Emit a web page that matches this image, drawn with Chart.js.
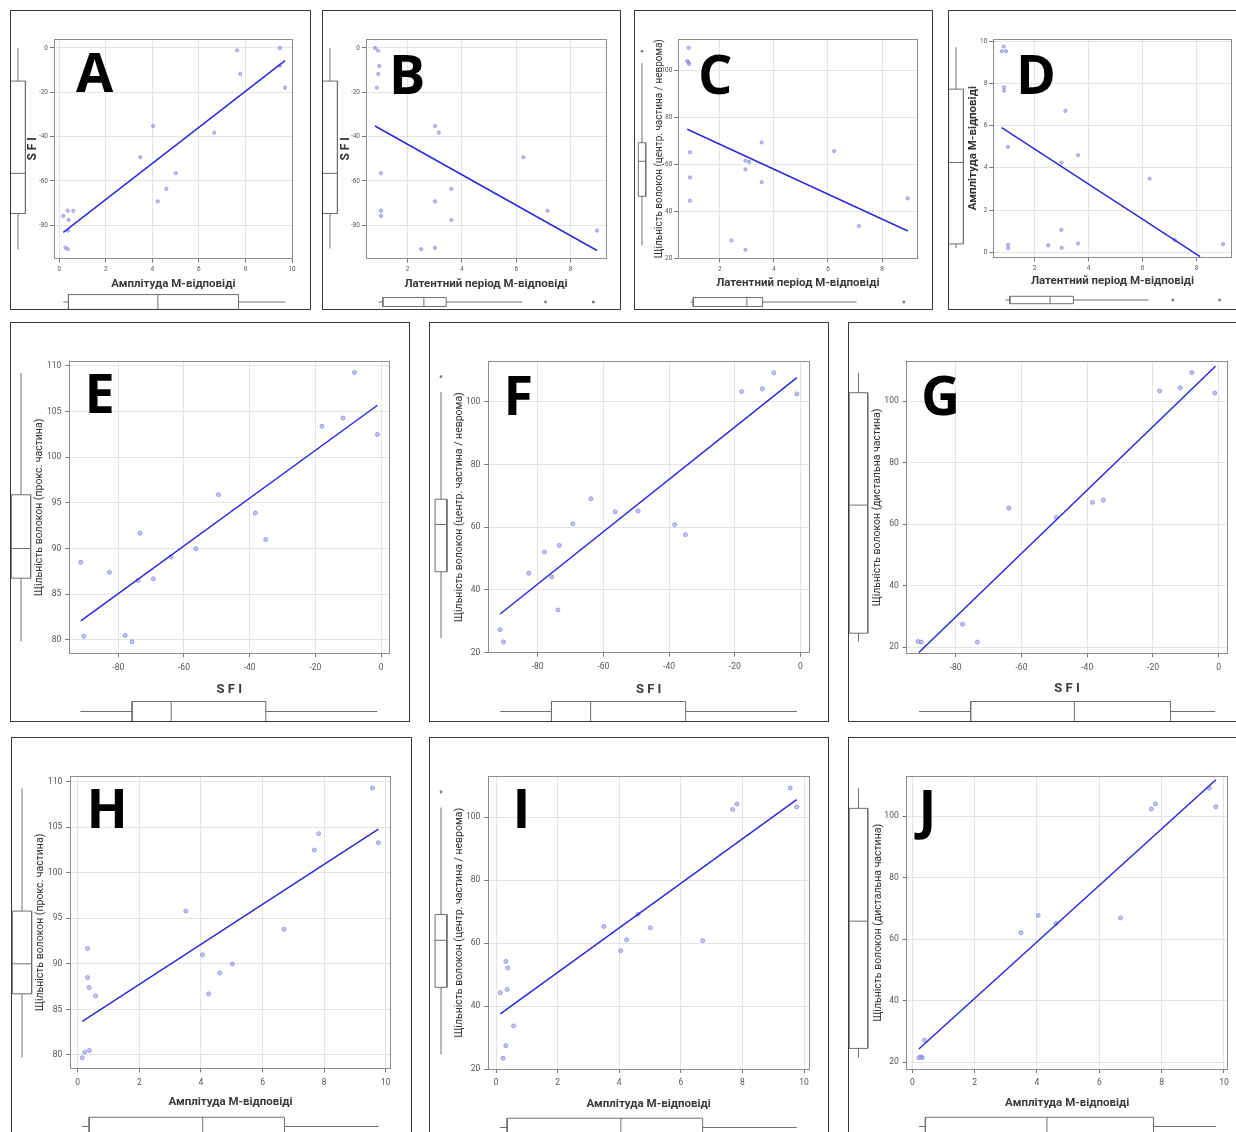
<!DOCTYPE html>
<html>
<head>
<meta charset="utf-8">
<script src="https://cdn.jsdelivr.net/npm/chart.js@4.4.1/dist/chart.umd.min.js"></script>
<style>
html, body { margin: 0; padding: 0; background: #fff; }
body { width: 1236px; height: 1132px; overflow: hidden; position: relative; }
.wrap { position: absolute; overflow: hidden; }
.wrap canvas { position: absolute; }
.border { position: absolute; border: 1.5px solid #3a3a3a; box-sizing: border-box; pointer-events: none; }
.letter { position: absolute; font-family: 'Open Sans', sans-serif; font-weight: 700; font-size: 54px; line-height: 1; color: #000; }
</style>
</head>
<body>
<script>
// tick labels
const ticksAmp = [0, 2, 4, 6, 8, 10];
const ticksLat = [2, 4, 6, 8];
const ticksSfi = [0, -20, -40, -60, -80];
const ticksProx = [80, 85, 90, 95, 100, 105, 110];
const ticksCent = [20, 40, 60, 80, 100];
const ticksDist = [20, 40, 60, 80, 100];

// axis titles
const titleAmp = 'Амплітуда М-відповіді';
const titleLat = 'Латентний період М-відповіді';
const titleSfi = 'S F I';
const titleProx = 'Щільність волокон (прокс. частина)';
const titleCent = 'Щільність волокон (центр. частина / неврома)';
const titleDist = 'Щільність волокон (дистальна частина)';

// A: amplitude vs SFI
const aAmp = [7.64, 9.48, 7.78, 9.48, 9.70, 4.03, 6.66, 3.48, 5.00, 4.60, 4.23, 0.36, 0.60, 0.17, 0.40, 0.37, 0.26, 0.36];
const aSfi = [-1.1, 0.0, -11.7, -8.0, -17.9, -35.2, -38.2, -49.3, -56.5, -63.6, -69.2, -73.4, -73.5, -75.8, -77.6, -82.4, -90.1, -90.8];
const aFitX = [0.17, 9.70];
const aFitY = [-83.2, -5.7];
const aBoxX = [0.17, 0.39, 4.23, 7.69, 9.70];
const aBoxY = [-90.8, -74.6, -56.5, -14.9, 0];

// B: latency vs SFI
const bLat = [0.80, 0.91, 0.96, 0.92, 0.87, 3.01, 3.15, 6.26, 1.02, 3.61, 3.01, 1.02, 7.15, 1.02, 3.61, 8.97, 2.50, 3.01];
const bSfi = [0, -1.2, -8.1, -11.7, -17.9, -35.2, -38.2, -49.3, -56.5, -63.6, -69.2, -73.4, -73.5, -75.8, -77.6, -82.4, -90.8, -90.2];
const bFitX = [0.80, 8.97];
const bFitY = [-35.2, -91.4];
const bBoxX = [0.80, 0.96, 2.52, 3.37, 6.26];
const bOutX = [7.15, 8.97];
const bBoxY = [-90.4, -74.6, -56.5, -14.9, 0];

// C: latency vs central density
const cLat = [0.85, 0.80, 0.85, 0.87, 0.90, 0.90, 0.90, 2.43, 2.95, 2.95, 3.09, 2.95, 3.55, 3.55, 6.23, 7.14, 8.95];
const cCent = [109.5, 103.8, 103.3, 102.6, 65.0, 54.3, 44.4, 27.5, 23.5, 61.4, 60.9, 57.7, 69.2, 52.3, 65.5, 33.6, 45.4];
const cFitX = [0.80, 8.95];
const cFitY = [74.8, 31.5];
const cBoxX = [0.80, 0.90, 2.95, 3.55, 7.14];
const cOutX = [8.95];
const cBoxY = [23.7, 45.4, 60.9, 69.1, 104.3];
const cOutY = [109.5];

// D: latency vs amplitude
const dLat = [0.86, 0.78, 0.94, 0.87, 0.87, 1.01, 3.14, 3.61, 3.00, 6.26, 2.99, 7.19, 8.98, 2.51, 3.00, 3.61, 1.02, 1.02];
const dAmp = [9.75, 9.53, 9.53, 7.82, 7.66, 4.99, 6.70, 4.60, 4.25, 3.49, 1.06, 0.58, 0.38, 0.33, 0.21, 0.41, 0.35, 0.19];
const dFitX = [0.78, 8.13];
const dFitY = [5.91, -0.21];
const dBoxX = [0.80, 0.96, 2.50, 3.39, 6.26];
const dOutX = [7.19, 8.98];
const dBoxY = [0.19, 0.38, 4.25, 7.73, 9.72];

// E: SFI vs proximal density
const eSfi = [-8.1, -11.6, -18.0, -1.1, -49.5, -38.3, -35.1, -56.4, -73.4, -63.9, -69.3, -74.0, -82.7, -91.4, -90.5, -77.9, -75.8];
const eProx = [109.3, 104.3, 103.4, 102.5, 95.9, 93.9, 91.0, 90.0, 91.7, 89.1, 86.7, 86.5, 87.4, 88.5, 80.4, 80.5, 79.8];
const eFitX = [-91.4, -1.1];
const eFitY = [82.1, 105.7];
const eBoxX = [-91.4, -75.7, -63.8, -35.0, -1.1];
const eBoxY = [79.8, 86.75, 90.0, 95.9, 109.3];

// F: SFI vs central density
const fSfi = [-8.1, -11.6, -17.9, -1.1, -63.8, -56.4, -49.4, -69.3, -38.3, -35.0, -73.4, -77.9, -82.7, -75.7, -73.8, -91.4, -90.4];
const fCent = [109.3, 104.2, 103.3, 102.5, 69.1, 64.9, 65.2, 61.1, 60.8, 57.6, 54.2, 52.1, 45.3, 44.1, 33.6, 27.3, 23.4];
const fFitX = [-91.4, -1.1];
const fFitY = [32.3, 107.7];
const fBoxX = [-91.2, -75.7, -63.8, -34.9, -1.1];
const fBoxY = [23.5, 45.3, 60.8, 69.1, 104.2];
const fOutY = [109.3];

// G: SFI vs distal density
const gSfi = [-8.2, -11.7, -18.0, -1.2, -63.8, -49.4, -38.4, -35.1, -77.9, -73.4, -91.4, -90.5];
const gDist = [109.3, 104.3, 103.3, 102.6, 65.2, 62.2, 67.1, 67.8, 27.5, 21.7, 21.9, 21.7];
const gFitX = [-91.2, -1.0];
const gFitY = [18.3, 111.3];
const gBoxX = [-91.2, -75.5, -43.9, -14.6, -1.0];
const gBoxY = [21.8, 24.5, 66.2, 102.8, 109.3];

// H: amplitude vs proximal density
const hAmp = [9.57, 7.82, 7.68, 9.76, 3.51, 6.70, 4.05, 5.02, 4.61, 4.25, 0.32, 0.32, 0.37, 0.58, 0.23, 0.38, 0.15];
const hProx = [109.3, 104.3, 102.5, 103.3, 95.8, 93.8, 91.0, 90.0, 89.0, 86.7, 91.7, 88.5, 87.4, 86.5, 80.3, 80.5, 79.7];
const hFitX = [0.15, 9.76];
const hFitY = [83.7, 104.8];
const hBoxX = [0.15, 0.38, 4.06, 6.71, 9.76];
const hBoxY = [79.7, 86.7, 90.0, 95.8, 109.3];

// I: amplitude vs central density
const iAmp = [9.55, 7.82, 7.68, 9.76, 3.50, 5.01, 4.61, 4.24, 6.71, 4.05, 0.32, 0.38, 0.36, 0.14, 0.57, 0.32, 0.23];
const iCent = [109.3, 104.2, 102.5, 103.3, 65.3, 64.9, 69.2, 61.1, 60.8, 57.6, 54.2, 52.1, 45.3, 44.2, 33.7, 27.4, 23.4];
const iFitX = [0.14, 9.76];
const iFitY = [37.5, 105.6];
const iBoxX = [0.14, 0.37, 4.06, 6.71, 9.76];
const iBoxY = [23.4, 45.4, 60.8, 69.2, 104.2];
const iOutY = [109.3];

// J: amplitude vs distal density
const jAmp = [9.53, 7.80, 7.67, 9.74, 4.04, 3.49, 4.61, 6.68, 0.39, 0.21, 0.32, 0.28];
const jDist = [109.1, 104.0, 102.3, 103.0, 67.7, 62.1, 65.1, 66.9, 27.2, 21.5, 21.5, 21.7];
const jFitX = [0.21, 9.74];
const jFitY = [24.3, 111.8];
const jBoxX = [0.21, 0.41, 4.31, 7.73, 9.74];
const jBoxY = [21.5, 24.5, 65.9, 102.6, 109.1];

const lineColor = '#2a2ad8';
const dotFill = 'rgba(150,150,235,0.55)';
const dotEdge = '#8b8be0';
const boxColor = '#6e6e6e';
const gridColor = '#e4e4e4';
const frameColor = '#8c8c8c';

const fontBold = { family: 'Roboto', size: 11.5, weight: 'bold' };
const fontSfiX = { family: 'Roboto', size: 13, weight: 'bold' };
const fontSfiY = { family: 'Roboto', size: 12, weight: 'bold' };
const fontDens = { family: 'Roboto', size: 10.5 };
const fontDensSmall = { family: 'Roboto', size: 10 };

const panels = [
  { key: 'A', frame: { x: 10, y: 10, w: 301, h: 300 }, plot: { l: 54, t: 39, r: 292.7, b: 258.7 },
    xRange: [-0.23, 10.03], yRange: [-95.1, 4.06], xs: aAmp, ys: aSfi, fitX: aFitX, fitY: aFitY,
    xTicks: ticksAmp, yTicks: ticksSfi, xTitle: titleAmp, yTitle: titleSfi, xFont: fontBold, yFont: fontSfiY,
    xTitleY: 284, yTitleX: 34, boxX: aBoxX, outX: [], boxY: aBoxY, outY: [],
    leftBox: { cx: 18.3, hw: 7.3 }, botBox: { cy: 301.7, hh: 7.4 }, letter: { x: 76, capTop: 53 }, small: true },
  { key: 'B', frame: { x: 322, y: 10, w: 299, h: 300 }, plot: { l: 366, t: 39, r: 606, b: 258.7 },
    xRange: [0.47, 9.30], yRange: [-95.1, 4.06], xs: bLat, ys: bSfi, fitX: bFitX, fitY: bFitY,
    xTicks: ticksLat, yTicks: ticksSfi, xTitle: titleLat, yTitle: titleSfi, xFont: fontBold, yFont: fontSfiY,
    xTitleY: 284, yTitleX: 347, boxX: bBoxX, outX: bOutX, boxY: bBoxY, outY: [],
    leftBox: { cx: 329.8, hw: 7.5 }, botBox: { cy: 301.7, hh: 7.4 }, letter: { x: 389, capTop: 55 }, small: true },
  { key: 'C', frame: { x: 634, y: 10, w: 299, h: 300 }, plot: { l: 678.3, t: 39, r: 917.3, b: 258.3 },
    xRange: [0.47, 9.30], yRange: [19.9, 113.2], xs: cLat, ys: cCent, fitX: cFitX, fitY: cFitY,
    xTicks: ticksLat, yTicks: ticksCent, xTitle: titleLat, yTitle: titleCent, xFont: fontBold, yFont: fontDensSmall,
    xTitleY: 282.3, yTitleX: 659.3, boxX: cBoxX, outX: cOutX, boxY: cBoxY, outY: cOutY,
    leftBox: { cx: 641.7, hw: 6.7 }, botBox: { cy: 301.7, hh: 7.4 }, letter: { x: 698, capTop: 55 }, small: true },
  { key: 'D', frame: { x: 948, y: 10, w: 320, h: 300 }, plot: { l: 993.3, t: 39, r: 1231.7, b: 257.3 },
    xRange: [0.47, 9.30], yRange: [-0.24, 10.11], xs: dLat, ys: dAmp, fitX: dFitX, fitY: dFitY,
    xTicks: ticksLat, yTicks: ticksAmp, xTitle: titleLat, yTitle: titleAmp, xFont: fontBold, yFont: fontBold,
    xTitleY: 280.7, yTitleX: 973.3, boxX: dBoxX, outX: dOutX, boxY: dBoxY, outY: [],
    leftBox: { cx: 955.8, hw: 7.5 }, botBox: { cy: 300, hh: 6.7 }, letter: { x: 1016, capTop: 55 }, small: true },
  { key: 'E', frame: { x: 10, y: 322, w: 400, h: 400 }, plot: { l: 69.3, t: 361.7, r: 389.3, b: 653.3 },
    xRange: [-94.9, 2.5], yRange: [78.54, 110.47], xs: eSfi, ys: eProx, fitX: eFitX, fitY: eFitY,
    xTicks: ticksSfi, yTicks: ticksProx, xTitle: titleSfi, yTitle: titleProx, xFont: fontSfiX, yFont: fontDens,
    xTitleY: 689.3, yTitleX: 40, boxX: eBoxX, outX: [], boxY: eBoxY, outY: [],
    leftBox: { cx: 21.2, hw: 9.5 }, botBox: { cy: 711.7, hh: 10 }, letter: { x: 84.5, capTop: 374.3 }, small: false },
  { key: 'F', frame: { x: 429, y: 322, w: 400, h: 400 }, plot: { l: 488.3, t: 361.7, r: 809, b: 652.7 },
    xRange: [-95.0, 2.6], yRange: [19.96, 112.8], xs: fSfi, ys: fCent, fitX: fFitX, fitY: fFitY,
    xTicks: ticksSfi, yTicks: ticksCent, xTitle: titleSfi, yTitle: titleCent, xFont: fontSfiX, yFont: fontDens,
    xTitleY: 689.3, yTitleX: 460, boxX: fBoxX, outX: [], boxY: fBoxY, outY: fOutY,
    leftBox: { cx: 441, hw: 9.2 }, botBox: { cy: 711.7, hh: 10 }, letter: { x: 503.5, capTop: 376 }, small: false },
  { key: 'G', frame: { x: 848, y: 322, w: 420, h: 400 }, plot: { l: 906.7, t: 361.7, r: 1227.3, b: 653.3 },
    xRange: [-94.9, 2.6], yRange: [18.05, 112.8], xs: gSfi, ys: gDist, fitX: gFitX, fitY: gFitY,
    xTicks: ticksSfi, yTicks: ticksDist, xTitle: titleSfi, yTitle: titleDist, xFont: fontSfiX, yFont: fontDens,
    xTitleY: 688.3, yTitleX: 877.7, boxX: gBoxX, outX: [], boxY: gBoxY, outY: [],
    leftBox: { cx: 858.5, hw: 9.2 }, botBox: { cy: 711.7, hh: 10 }, letter: { x: 921, capTop: 376 }, small: false },
  { key: 'H', frame: { x: 11, y: 737, w: 401, h: 420 }, plot: { l: 70.3, t: 776.7, r: 390.7, b: 1068.3 },
    xRange: [-0.24, 10.16], yRange: [78.54, 110.55], xs: hAmp, ys: hProx, fitX: hFitX, fitY: hFitY,
    xTicks: ticksAmp, yTicks: ticksProx, xTitle: titleAmp, yTitle: titleProx, xFont: fontBold, yFont: fontDens,
    xTitleY: 1101.7, yTitleX: 40.7, boxX: hBoxX, outX: [], boxY: hBoxY, outY: [],
    leftBox: { cx: 22.3, hw: 9.7 }, botBox: { cy: 1126.7, hh: 9.4 }, letter: { x: 86.5, capTop: 789.3 }, small: false },
  { key: 'I', frame: { x: 429, y: 737, w: 400, h: 420 }, plot: { l: 488.3, t: 776.7, r: 809, b: 1069 },
    xRange: [-0.25, 10.16], yRange: [20, 112.9], xs: iAmp, ys: iCent, fitX: iFitX, fitY: iFitY,
    xTicks: ticksAmp, yTicks: ticksCent, xTitle: titleAmp, yTitle: titleCent, xFont: fontBold, yFont: fontDens,
    xTitleY: 1104, yTitleX: 459.3, boxX: iBoxX, outX: [], boxY: iBoxY, outY: iOutY,
    leftBox: { cx: 441, hw: 9.2 }, botBox: { cy: 1127.7, hh: 9.4 }, letter: { x: 512.5, capTop: 789.3 }, small: false },
  { key: 'J', frame: { x: 848, y: 737, w: 420, h: 420 }, plot: { l: 906.7, t: 776.7, r: 1227.7, b: 1069 },
    xRange: [-0.18, 10.12], yRange: [17.8, 112.8], xs: jAmp, ys: jDist, fitX: jFitX, fitY: jFitY,
    xTicks: ticksAmp, yTicks: ticksDist, xTitle: titleAmp, yTitle: titleDist, xFont: fontBold, yFont: fontDens,
    xTitleY: 1102.3, yTitleX: 878.3, boxX: jBoxX, outX: [], boxY: jBoxY, outY: [],
    leftBox: { cx: 858.5, hw: 9.2 }, botBox: { cy: 1126.7, hh: 9.4 }, letter: { x: 918.5, capTop: 790 }, small: false }
];

function pts(xs, ys) {
  return xs.map((x, i) => ({ x: x, y: ys[i] }));
}

function fixedTicks(list) {
  return function (axis) {
    axis.ticks = list.map(v => ({ value: v }));
  };
}

function addCanvas(wrap, frame, left, top, w, h) {
  const cv = document.createElement('canvas');
  cv.width = w;
  cv.height = h;
  cv.style.width = w + 'px';
  cv.style.height = h + 'px';
  cv.style.left = (left - frame.x) + 'px';
  cv.style.top = (top - frame.y) + 'px';
  wrap.appendChild(cv);
  return cv;
}

function mainChart(p, wrap) {
  const lhY = p.yFont.size * 1.2;
  const lhX = p.xFont.size * 1.2;
  const cLeft = Math.floor(p.yTitleX - lhY / 2);
  const cTop = Math.floor(p.plot.t - 10);
  const cRight = Math.ceil(p.plot.r + 12);
  const cBottom = Math.ceil(p.xTitleY + lhX / 2);
  const padL = p.plot.l - cLeft;
  const padT = p.plot.t - cTop;
  const padR = cRight - p.plot.r;
  const padB = cBottom - p.plot.b;
  const cv = addCanvas(wrap, p.frame, cLeft, cTop, cRight - cLeft, cBottom - cTop);

  const tickSize = p.small ? 6.5 : 8.5;
  const tickFont = { family: 'Roboto', size: tickSize };

  new Chart(cv, {
    type: 'scatter',
    data: {
      datasets: [
        {
          data: pts(p.xs, p.ys),
          pointRadius: p.small ? 1.6 : 2,
          pointBorderWidth: 0.8,
          borderColor: dotEdge,
          backgroundColor: dotFill,
          order: 2
        },
        {
          data: pts(p.fitX, p.fitY),
          showLine: true,
          pointRadius: 0,
          borderColor: lineColor,
          borderWidth: 1.5,
          order: 1
        }
      ]
    },
    options: {
      responsive: false,
      animation: false,
      events: [],
      layout: { padding: 0 },
      plugins: { legend: { display: false }, tooltip: { enabled: false } },
      scales: {
        x: {
          type: 'linear', position: 'bottom', min: p.xRange[0], max: p.xRange[1],
          afterBuildTicks: fixedTicks(p.xTicks),
          afterFit: s => { s.height = padB; },
          grid: { color: gridColor, tickLength: 4, tickColor: '#777' },
          border: { color: frameColor },
          ticks: { color: '#555', font: tickFont, padding: p.small ? 3 : 5, maxRotation: 0, autoSkip: false },
          title: { display: true, text: p.xTitle, color: '#3a3a3a', font: p.xFont, padding: 0 }
        },
        y: {
          type: 'linear', position: 'left', min: p.yRange[0], max: p.yRange[1],
          afterBuildTicks: fixedTicks(p.yTicks),
          afterFit: s => { s.width = padL; },
          grid: { color: gridColor, tickLength: 4, tickColor: '#777' },
          border: { color: frameColor },
          ticks: { color: '#555', font: tickFont, padding: p.small ? 2 : 4, autoSkip: false },
          title: { display: true, text: p.yTitle, color: '#333', font: p.yFont, padding: 0 }
        },
        xTop: {
          axis: 'x', type: 'linear', position: 'top', min: p.xRange[0], max: p.xRange[1],
          afterFit: s => { s.height = padT; },
          grid: { display: false }, ticks: { display: false },
          border: { color: frameColor }
        },
        yRight: {
          axis: 'y', type: 'linear', position: 'right', min: p.yRange[0], max: p.yRange[1],
          afterFit: s => { s.width = padR; },
          grid: { display: false }, ticks: { display: false },
          border: { color: frameColor }
        }
      }
    }
  });
}

function boxChart(wrap, frame, rect, horizontal, stats, outs, range) {
  const left = Math.round(rect.l), top = Math.round(rect.t);
  const cv = addCanvas(wrap, frame, left, top, Math.round(rect.r) - left, Math.round(rect.b) - top);
  const lo = stats[0], q1 = stats[1], med = stats[2], q3 = stats[3], hi = stats[4];
  const P = horizontal ? (v, c) => ({ x: v, y: c }) : (v, c) => ({ x: c, y: v });
  const seg = list => ({ data: list, showLine: true, pointRadius: 0, borderColor: boxColor, borderWidth: 1 });
  const sets = [
    seg([P(lo, 0), P(q1, 0)]),
    seg([P(q3, 0), P(hi, 0)]),
    seg([P(q1, -1), P(q3, -1), P(q3, 1), P(q1, 1), P(q1, -1)]),
    seg([P(med, -1), P(med, 1)]),
    { data: outs.map(v => P(v, 0)), pointRadius: 1.4, borderWidth: 0, backgroundColor: '#7a7a7a' }
  ];
  const valueScale = { type: 'linear', min: range[0], max: range[1], display: false };
  const crossScale = { type: 'linear', min: -1.35, max: 1.35, display: false };
  new Chart(cv, {
    type: 'scatter',
    data: { datasets: sets },
    options: {
      responsive: false,
      animation: false,
      events: [],
      layout: { padding: 0 },
      plugins: { legend: { display: false }, tooltip: { enabled: false } },
      scales: horizontal ? { x: valueScale, y: crossScale } : { x: crossScale, y: valueScale }
    }
  });
}

panels.forEach(p => {
  const f = p.frame;
  const wrap = document.createElement('div');
  wrap.className = 'wrap';
  wrap.style.left = f.x + 'px';
  wrap.style.top = f.y + 'px';
  wrap.style.width = f.w + 'px';
  wrap.style.height = f.h + 'px';
  document.body.appendChild(wrap);

  // left (vertical) box plot shares the y range of the plot
  const lb = p.leftBox;
  boxChart(wrap, f, { l: lb.cx - lb.hw * 1.35, r: lb.cx + lb.hw * 1.35, t: p.plot.t, b: p.plot.b },
    false, p.boxY, p.outY, p.yRange);
  // bottom (horizontal) box plot shares the x range of the plot
  const bb = p.botBox;
  boxChart(wrap, f, { l: p.plot.l, r: p.plot.r, t: bb.cy - bb.hh * 1.35, b: bb.cy + bb.hh * 1.35 },
    true, p.boxX, p.outX, p.xRange);

  mainChart(p, wrap);

  const letter = document.createElement('div');
  letter.className = 'letter';
  letter.textContent = p.key;
  letter.style.left = (p.letter.x - f.x) + 'px';
  letter.style.top = (p.letter.capTop - 9.4 - f.y) + 'px';
  wrap.appendChild(letter);

  const border = document.createElement('div');
  border.className = 'border';
  border.style.left = f.x + 'px';
  border.style.top = f.y + 'px';
  border.style.width = f.w + 'px';
  border.style.height = f.h + 'px';
  document.body.appendChild(border);
});
</script>
</body>
</html>
